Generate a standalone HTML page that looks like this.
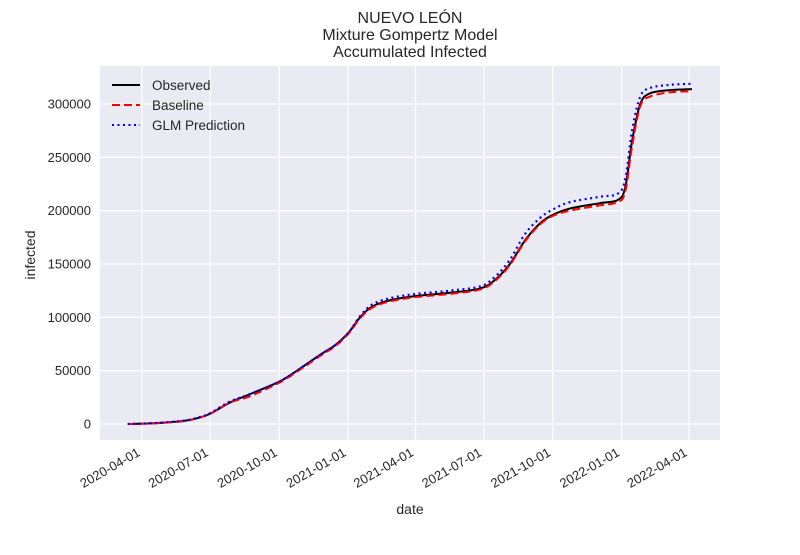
<!DOCTYPE html>
<html><head><meta charset="utf-8"><style>
body{margin:0;background:#fff;font-family:"Liberation Sans",sans-serif}
svg text{font-family:"Liberation Sans",sans-serif;fill:#262626}
</style></head><body>
<svg id="c" width="800" height="550"></svg>
<script>
const days=[-19,0,24,57,77,92,117,144,184,211,238,258,276,291,307,331,366,411,451,471,491,511,531,548,571,611,635,645,654,665,678,705,734];
const observed=[0,300,1000,3000,6000,10000,20000,28000,40000,52000,65000,74000,86000,100000,110000,116000,120000,123000,127000,135000,150000,172000,188000,196000,202000,207000,210000,222000,265000,300000,310000,313000,314000];
const baseline=[0,300,900,2800,6000,10000,20000,26000,39000,51000,64000,73000,85000,99000,109000,115000,119000,122000,126000,134000,149000,171000,187000,195000,200000,205000,208000,218000,260000,298000,307000,311000,312000];
const glm=[0,400,1100,3200,6500,10500,21000,28000,40000,52000,65000,74000,86000,101000,112000,118000,122000,125000,129000,138000,154000,178000,193000,201000,208000,213000,216000,230000,275000,307000,315000,318000,319000];
const yTicks=[0,50000,100000,150000,200000,250000,300000];
const xTickLabels=["2020-04-01","2020-07-01","2020-10-01","2021-01-01","2021-04-01","2021-07-01","2021-10-01","2022-01-01","2022-04-01"];
const xTickDays=[0,91,183,275,365,456,548,640,730];
const L=100,R=720,T=66,B=440;
const X=d=>142+d*(547/730), Y=v=>424-v*(320/300000);
const s=document.getElementById('c'),NS='http://www.w3.org/2000/svg';
function mk(t,a,p){const e=document.createElementNS(NS,t);for(const k in a)e.setAttribute(k,a[k]);(p||s).appendChild(e);return e;}
const bg=mk('rect',{x:L,y:T,width:R-L,height:B-T,fill:'#eaeaf2'});


yTicks.forEach(v=>{
 const g=mk('line',{x1:L,x2:R,y1:Y(v),y2:Y(v),stroke:'#fff','stroke-width':1.2});
 
 
 const t=mk('text',{x:L-9,y:Y(v)+4.5,'text-anchor':'end','font-size':13});t.textContent=v;
 
 
});
xTickDays.forEach((d,i)=>{
 const g=mk('line',{x1:X(d),x2:X(d),y1:T,y2:B,stroke:'#fff','stroke-width':1.2});
 
 
 const ax=X(d)-1,ay=B+15;
 const t=mk('text',{x:ax,y:ay,'text-anchor':'end','font-size':13,transform:`rotate(-30 ${ax} ${ay})`});t.textContent=xTickLabels[i];
 
 
});
function smooth(pts){
 let d='M'+pts[0][0]+','+pts[0][1];
 for(let i=0;i<pts.length-1;i++){
  const p0=pts[Math.max(0,i-1)],p1=pts[i],p2=pts[i+1],p3=pts[Math.min(pts.length-1,i+2)];
  const c1=[p1[0]+(p2[0]-p0[0])/6,p1[1]+(p2[1]-p0[1])/6],c2=[p2[0]-(p3[0]-p1[0])/6,p2[1]-(p3[1]-p1[1])/6];
  d+=` C${c1[0]},${c1[1]} ${c2[0]},${c2[1]} ${p2[0]},${p2[1]}`;
 }
 return d;
}
function line(arr,col,dash,w,name){
 const p=mk('path',{d:smooth(days.map((d,i)=>[X(d),Y(arr[i])])),fill:'none',stroke:col,'stroke-width':w,'stroke-dasharray':dash,'stroke-linejoin':'round'});
 
 
}
line(observed,'#000','',2,'observed-line');
line(baseline,'#f00','8 4',2,'baseline-line');
line(glm,'#00f','2 3.5',2.2,'glm-prediction-line');
const leg=[['Observed','#000',''],['Baseline','#f00','8 4'],['GLM Prediction','#00f','2 3.5']];
leg.forEach((e,i)=>{
 const y=85+i*20;
 const l=mk('line',{x1:112,x2:140,y1:y,y2:y,stroke:e[1],'stroke-width':2,'stroke-dasharray':e[2]});
 
 
 const t=mk('text',{x:152,y:y+5,'font-size':13.5});t.textContent=e[0];
 
 
});
['NUEVO LEÓN','Mixture Gompertz Model','Accumulated Infected'].forEach((tx,i)=>{
 const t=mk('text',{x:410,y:23+i*17,'text-anchor':'middle','font-size':16});t.textContent=tx;
 
 
});
const xt=mk('text',{x:410,y:514,'text-anchor':'middle','font-size':14});xt.textContent='date';


const yt=mk('text',{x:35,y:255,'text-anchor':'middle','font-size':14,transform:'rotate(-90 35 255)'});yt.textContent='infected';


</script>
</body></html>
